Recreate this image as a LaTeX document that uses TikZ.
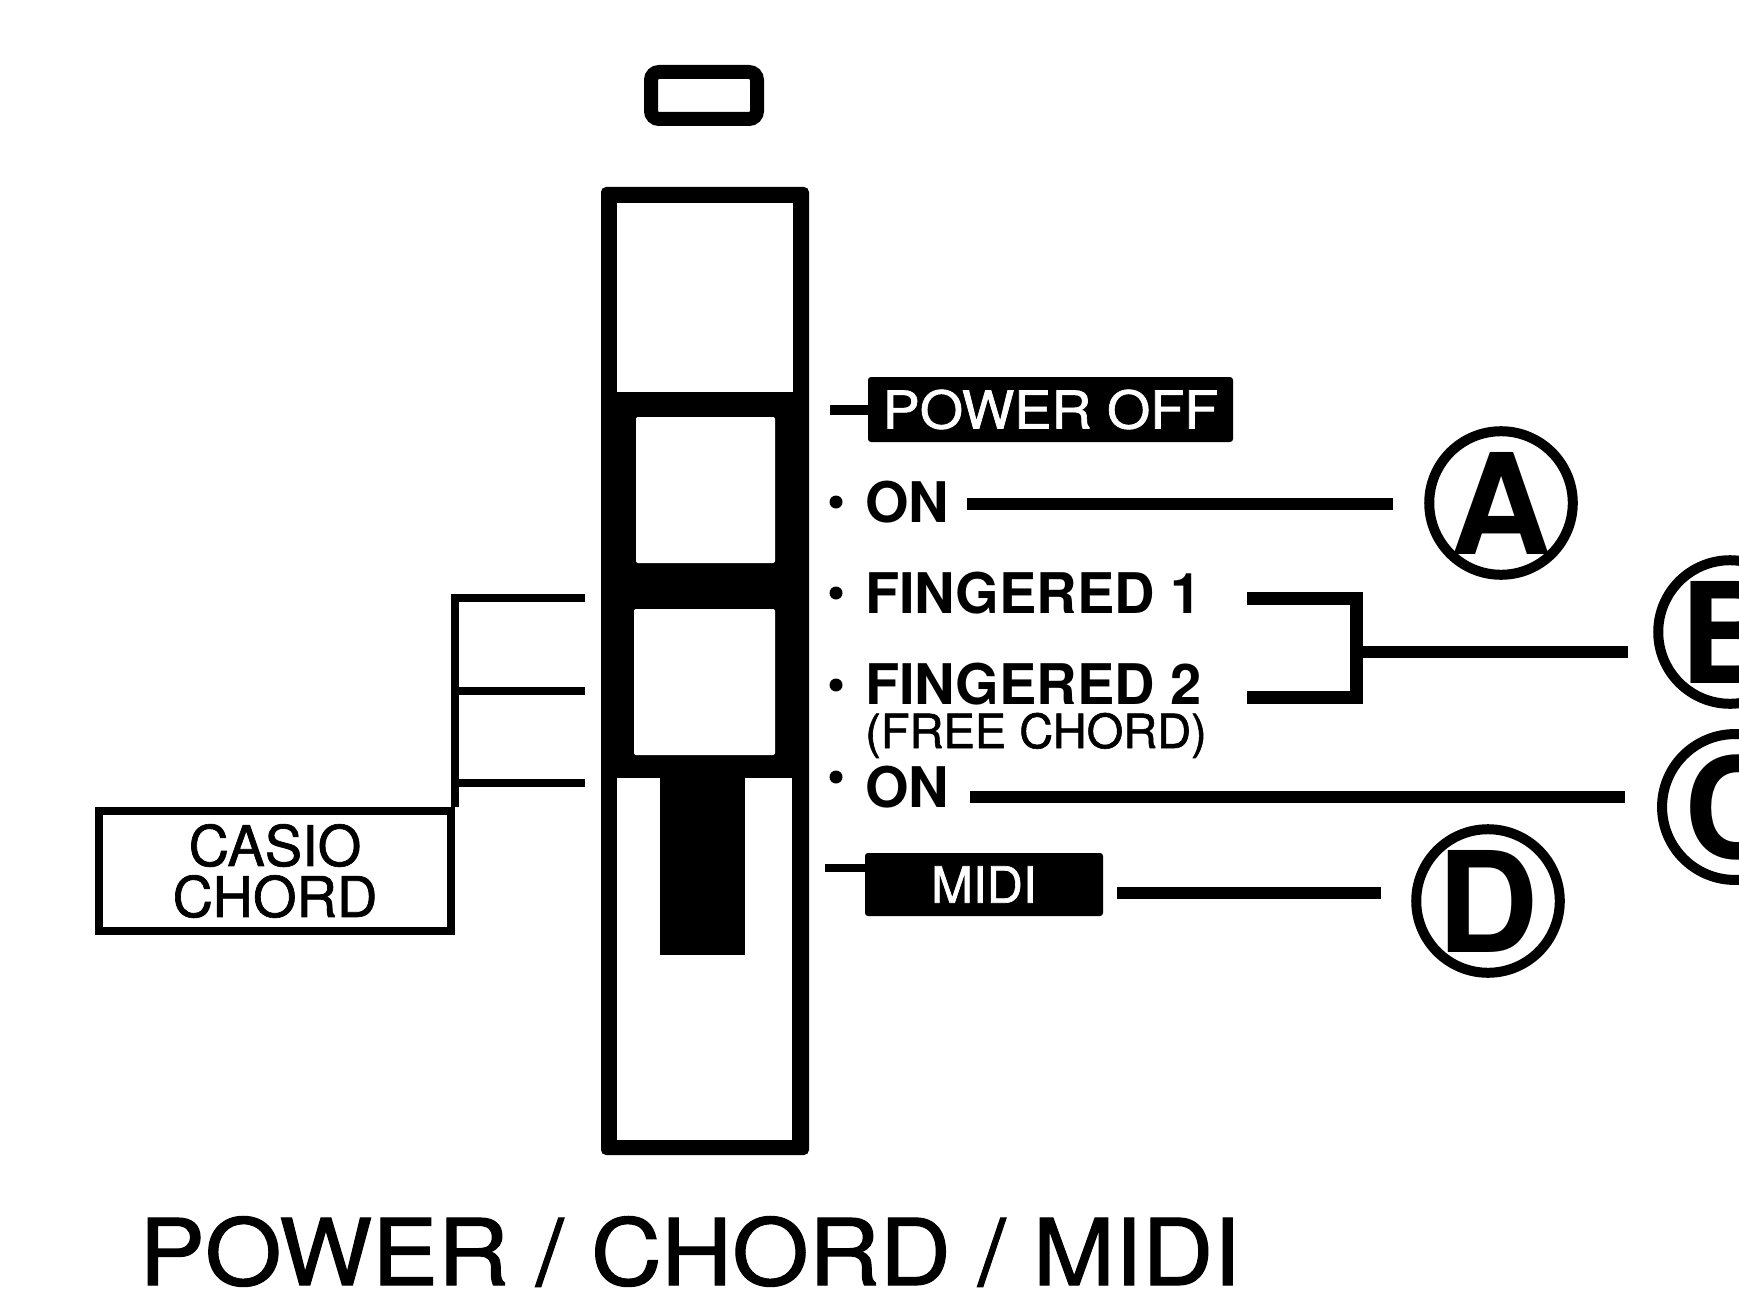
\documentclass[tikz,border=0pt]{standalone}
\usepackage{fontspec}
\setmainfont{TeX Gyre Heros}
\newfontfamily\medfont[FakeBold=1.2]{TeX Gyre Heros}
\begin{document}
\begin{tikzpicture}[x=1pt,y=-1pt,
  conn/.style={line width=12pt},
  thinconn/.style={line width=8pt},
  lbl/.style={anchor=base west, inner sep=0pt, font=\fontsize{56}{60}\selectfont\bfseries},
  dotmark/.style={circle, fill=black, inner sep=0pt, minimum size=13pt},
  circlbl/.style={circle, draw, line width=10pt, minimum size=140pt, inner sep=0pt, font=\fontsize{140}{144}\selectfont\bfseries},
  blackbox/.style={fill=black, text=white, inner sep=0pt, rounded corners=3pt},
]
\useasboundingbox (0,0) rectangle (1739,1292);
\clip (0,0) rectangle (1739,1292);
\fill[white] (0,0) rectangle (1739,1292);

% small indicator
\draw[line width=14pt, rounded corners=8pt] (651,72) rectangle (757,119);

% slider frame
\fill[rounded corners=5pt] (601,187) rectangle (809,1155);
\fill[white] (617,203) rectangle (793,392);
\fill[white, rounded corners=2pt] (636,417) rectangle (775,563);
\fill[white, rounded corners=2pt] (634,609) rectangle (775,755);
\fill[white] (617,778) rectangle (792,1140);
\fill (660,770) rectangle (745,955);

% labels on the right
\node[blackbox, minimum width=365pt, minimum height=65pt, font=\fontsize{52}{56}\medfont] (poweroff) at (1050.5,409.5) {\scalebox{1.07}[1]{POWER OFF}};
\coordinate (pt) at (830,409.5);
\draw[line width=10pt] (pt) -- (poweroff.west);

\node[dotmark] (d1) at (836,502) {};
\node[lbl] (on1) at (865,522) {ON};
\node[dotmark] (d2) at (836,593) {};
\node[lbl] (fing1) at (865,613) {FINGERED 1};
\node[dotmark] (d3) at (836,685) {};
\node[lbl] (fing2) at (865,704) {FINGERED 2};
\node[lbl, font=\fontsize{47}{50}\medfont] (free) at (865,748) {(FREE CHORD)};
\node[dotmark] (d4) at (836,777) {};
\node[lbl] (on2) at (865,807) {ON};

\node[blackbox, minimum width=238pt, minimum height=63pt, font=\fontsize{50}{54}\medfont] (midi) at (984,884.5) {MIDI};
\coordinate (mt) at (825,868);
\draw[line width=8pt] (mt) -- (mt -| midi.west);

% circled letters
\node[circlbl] (A) at (1501,503) {A};
\node[circlbl] (B) at (1730,632) {B};
\node[circlbl] (C) at (1735,807) {C};
\node[circlbl] (D) at (1488,901) {D};

% connectors
\coordinate (a0) at (967,504);
\draw[conn, shorten >=31pt] (a0) -- (a0 -| A.west);

\coordinate (b1) at (1247,598);
\coordinate (b2) at (1247,697);
\coordinate (bj) at (1356,652);
\draw[line width=13pt] (b1) -| (bj) |- (b2);
\draw[conn, shorten >=25pt] (bj) -- (bj -| B.west);

\coordinate (c0) at (970,797);
\draw[conn, shorten >=32pt] (c0) -- (c0 -| C.west);

\coordinate (m0) at (1117,893);
\draw[conn, shorten >=30pt] (m0) -- (m0 -| D.west);

% CASIO CHORD
\node[draw, line width=8pt, minimum width=352pt, minimum height=120pt, inner sep=0pt, align=center, font=\fontsize{56}{51}\medfont] (casio) at (275,871) {CASIO\\CHORD};
\coordinate (l1) at (585,598);
\coordinate (l2) at (585,691);
\coordinate (l3) at (585,783);
\draw[thinconn] (l1) -| (casio.north east);
\draw[thinconn] (l2) -- (l2 -| casio.north east);
\draw[thinconn] (l3) -- (l3 -| casio.north east);

% title
\node[anchor=base, inner sep=0pt, font=\fontsize{92}{96}\medfont] (title) at (690,1285) {\scalebox{1.07}[1]{POWER / CHORD / MIDI}};
\end{tikzpicture}
\end{document}
